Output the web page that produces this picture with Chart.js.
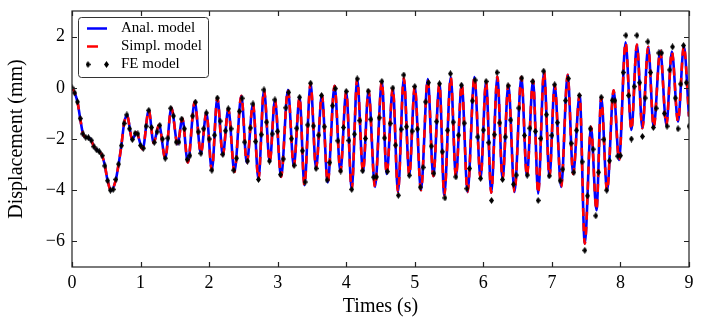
<!DOCTYPE html>
<html>
<head>
<meta charset="utf-8">
<script src="https://cdn.jsdelivr.net/npm/chart.js@4/dist/chart.umd.min.js"></script>
<style>
html,body{margin:0;padding:0;background:#fff;}
#wrap{width:706px;height:331px;}
</style>
</head>
<body>
<div id="wrap"><canvas id="c" width="706" height="331"></canvas></div>
<script>
// ---------- data ----------
const xTicks = [0, 1, 2, 3, 4, 5, 6, 7, 8, 9];
const yTicks = [-6, -4, -2, 0, 2];

// knots of the analytical-model curve (times in s)
const lineTimes = [
  0.00, 0.04, 0.08, 0.12, 0.16, 0.20, 0.24, 0.28, 0.32, 0.36,
  0.40, 0.44, 0.48, 0.52, 0.57, 0.64, 0.68, 0.72, 0.76, 0.80,
  0.88, 0.94, 1.03, 1.12, 1.19, 1.27, 1.36, 1.45, 1.54, 1.61,
  1.69, 1.79, 1.88, 1.96, 2.04, 2.12, 2.20, 2.28, 2.37, 2.47,
  2.55, 2.64, 2.72, 2.80, 2.885, 2.96, 3.05, 3.15, 3.235, 3.32,
  3.39, 3.48, 3.56, 3.645, 3.73, 3.83, 3.915, 4.00, 4.08, 4.16,
  4.245, 4.325, 4.42, 4.52, 4.59, 4.68, 4.755, 4.84, 4.92, 5.00,
  5.09, 5.19, 5.27, 5.36, 5.43, 5.525, 5.60, 5.685, 5.77, 5.87,
  5.96, 6.04, 6.115, 6.205, 6.28, 6.365, 6.455, 6.555, 6.635, 6.725,
  6.80, 6.885, 6.965, 7.04, 7.135, 7.23, 7.31, 7.405, 7.48, 7.57,
  7.65, 7.72, 7.805, 7.90, 7.98, 8.075, 8.16, 8.24, 8.32, 8.405,
  8.485, 8.58, 8.67, 8.75, 8.84, 8.925, 9.00
];
// displacement (mm), analytical model
const analValues = [
  0.00, -0.20, -0.55, -1.20, -1.80, -1.93, -1.95, -2.05, -2.30, -2.42,
  -2.50, -2.65, -3.05, -3.63, -4.02, -3.58, -2.98, -2.26, -1.39, -1.06,
  -2.02, -1.75, -2.40, -0.88, -2.15, -1.45, -2.75, -0.78, -2.20, -1.20,
  -2.92, -0.55, -2.56, -0.98, -3.22, -0.40, -2.63, -0.82, -3.28, -0.31,
  -2.93, -0.63, -3.58, -0.08, -2.89, -0.47, -3.48, -0.08, -3.06, -0.37,
  -3.80, 0.18, -3.15, -0.27, -3.70, 0.08, -3.28, -0.14, -3.97, 0.35,
  -3.28, -0.10, -3.87, 0.25, -3.37, -0.01, -4.07, 0.38, -3.42, 0.05,
  -4.00, 0.34, -3.45, 0.16, -4.20, 0.42, -3.48, 0.14, -4.07, 0.42,
  -3.54, 0.25, -4.10, 0.44, -3.58, 0.12, -4.07, 0.42, -3.45, 0.29,
  -4.13, 0.64, -3.48, 0.12, -3.87, 0.51, -3.37, -0.27, -6.09, -1.52,
  -4.78, -0.37, -4.03, -0.10, -2.82, 1.78, -1.65, 1.69, -1.58, 1.60,
  -1.54, 1.45, -1.45, 1.42, -1.32, 1.62, -1.12
];
// simplified model: indistinguishable from the analytical one in the picture
const simplValues = [
  0.00, -0.20, -0.55, -1.20, -1.80, -1.93, -1.95, -2.05, -2.30, -2.42,
  -2.50, -2.65, -3.05, -3.63, -4.02, -3.58, -2.98, -2.26, -1.39, -1.06,
  -2.02, -1.75, -2.40, -0.88, -2.15, -1.45, -2.75, -0.78, -2.20, -1.20,
  -2.92, -0.55, -2.56, -0.98, -3.22, -0.40, -2.63, -0.82, -3.28, -0.31,
  -2.93, -0.63, -3.58, -0.08, -2.89, -0.47, -3.48, -0.08, -3.06, -0.37,
  -3.80, 0.18, -3.15, -0.27, -3.70, 0.08, -3.28, -0.14, -3.97, 0.35,
  -3.28, -0.10, -3.87, 0.25, -3.37, -0.01, -4.07, 0.38, -3.42, 0.05,
  -4.00, 0.34, -3.45, 0.16, -4.20, 0.42, -3.48, 0.14, -4.07, 0.42,
  -3.54, 0.25, -4.10, 0.44, -3.58, 0.12, -4.07, 0.42, -3.45, 0.29,
  -4.13, 0.64, -3.48, 0.12, -3.87, 0.51, -3.37, -0.27, -6.09, -1.52,
  -4.78, -0.37, -4.03, -0.10, -2.82, 1.78, -1.65, 1.69, -1.58, 1.60,
  -1.54, 1.45, -1.45, 1.42, -1.32, 1.62, -1.12
];
// FE model samples, one every feStep seconds starting at 0
const feStep = 0.04;
const feValues = [
  0.00, -0.20, -0.55, -1.20, -1.80, -1.93, -1.95, -2.05, -2.30, -2.42,
  -2.50, -2.65, -3.05, -3.63, -4.00, -3.97, -3.58, -2.98, -2.26, -1.39,
  -1.06, -1.60, -2.02, -1.78, -1.80, -2.25, -2.36, -1.50, -0.88, -1.55,
  -2.13, -1.72, -1.47, -2.00, -2.75, -1.97, -0.80, -1.10, -2.12, -2.12,
  -1.22, -1.60, -2.80, -2.65, -1.10, -0.56, -1.72, -2.56, -1.60, -0.98,
  -2.00, -3.22, -1.85, -0.40, -1.30, -2.60, -1.68, -0.82, -1.60, -3.22,
  -2.75, -0.92, -0.41, -2.12, -2.86, -1.57, -0.63, -2.10, -3.58, -1.83,
  -0.08, -1.34, -2.86, -1.80, -0.47, -1.70, -3.39, -2.78, -0.78, -0.18,
  -1.99, -3.03, -1.58, -0.37, -2.46, -3.68, -1.45, 0.18, -1.49, -3.15,
  -1.85, -0.30, -1.52, -3.60, -2.92, -0.70, -0.03, -2.07, -3.25, -1.55,
  -0.14, -2.06, -3.97, -1.81, 0.35, -1.28, -3.24, -1.98, -0.13, -1.23,
  -3.49, -3.48, -1.17, 0.25, -1.96, -3.27, -1.39, -0.01, -2.24, -4.20,
  -1.62, 0.50, -1.52, -3.42, -1.69, 0.05, -1.61, -3.88, -3.11, -0.55,
  0.20, -2.28, -3.34, -1.32, 0.16, -2.50, -4.30, -1.66, 0.55, -1.34,
  -3.48, -1.85, 0.10, -1.38, -3.94, -3.15, -0.51, 0.30, -1.92, -3.54,
  -1.65, 0.25, -2.14, -4.40, -1.83, 0.60, -1.37, -3.58, -1.92, 0.08,
  -1.26, -3.77, -3.41, -0.79, 0.38, -1.86, -3.41, -1.58, 0.25, -1.70,
  -4.40, -1.98, 0.65, -1.05, -3.44, -1.86, 0.12, -1.36, -3.63, -3.18,
  -0.50, 0.36, -2.17, -3.30, -1.66, -0.30, -2.89, -6.35, -4.22, -1.60,
  -2.40, -5.00, -3.30, -0.37, -2.02, -4.00, -2.85, -0.49, -0.50, -2.67,
  -2.65, 0.60, 2.05, -0.30, -2.00, 0.05, 2.05, 0.20, -1.90, -0.40,
  1.80, 0.60, -1.55, -0.80, 1.36, 1.36, -1.00, -1.50, 0.70, 1.60,
  -0.40, -1.60, 0.15, 1.65, 0.20, -1.50
];
const seriesNames = ['Anal. model', 'Simpl. model', 'FE model'];
const xTitle = 'Times (s)';
const yTitle = 'Displacement (mm)';

// ---------- chart ----------
const SERIF = "'Liberation Serif', 'DejaVu Serif', serif";
Chart.defaults.font.family = SERIF;
Chart.defaults.color = '#000';

// thin diamond marker
const diamond = document.createElement('canvas');
diamond.width = 5; diamond.height = 7;
(function(){
  const g = diamond.getContext('2d');
  g.fillStyle = '#000';
  g.beginPath();
  g.moveTo(2.5, 0); g.lineTo(5, 3.5); g.lineTo(2.5, 7); g.lineTo(0, 3.5);
  g.closePath(); g.fill();
})();

const analData = lineTimes.map((t, i) => ({x: t, y: analValues[i]}));
const simplData = lineTimes.map((t, i) => ({x: t, y: simplValues[i]}));
const feData = feValues.map((v, i) => ({x: +(i * feStep).toFixed(2), y: v}));

const minus = v => (v < 0 ? '\u2212' + Math.abs(v) : String(v));

const deco = {
  id: 'deco',
  afterDraw(chart) {
    const {ctx, chartArea: a, scales: {x, y}} = chart;
    ctx.save();
    ctx.strokeStyle = '#222';
    ctx.lineWidth = 1.2;
    ctx.strokeRect(a.left, a.top, a.right - a.left, a.bottom - a.top);
    ctx.beginPath();
    xTicks.forEach(v => {
      const px = Math.round(x.getPixelForValue(v)) + 0.5;
      ctx.moveTo(px, a.bottom); ctx.lineTo(px, a.bottom - 5);
      ctx.moveTo(px, a.top); ctx.lineTo(px, a.top + 5);
    });
    yTicks.forEach(v => {
      const py = Math.round(y.getPixelForValue(v)) + 0.5;
      ctx.moveTo(a.left, py); ctx.lineTo(a.left + 5, py);
      ctx.moveTo(a.right, py); ctx.lineTo(a.right - 5, py);
    });
    ctx.stroke();

    // legend box
    const bx = 78.5, by = 17.5, bw = 130, bh = 60, r = 3;
    ctx.beginPath();
    ctx.moveTo(bx + r, by);
    ctx.lineTo(bx + bw - r, by); ctx.arcTo(bx + bw, by, bx + bw, by + r, r);
    ctx.lineTo(bx + bw, by + bh - r); ctx.arcTo(bx + bw, by + bh, bx + bw - r, by + bh, r);
    ctx.lineTo(bx + r, by + bh); ctx.arcTo(bx, by + bh, bx, by + bh - r, r);
    ctx.lineTo(bx, by + r); ctx.arcTo(bx, by, bx + r, by, r);
    ctx.closePath();
    ctx.fillStyle = 'rgba(255,255,255,0.85)';
    ctx.fill();
    ctx.strokeStyle = '#333';
    ctx.lineWidth = 1;
    ctx.stroke();

    const rows = [28.5, 46.5, 64.5];
    ctx.strokeStyle = '#0000ff'; ctx.lineWidth = 2.5;
    ctx.beginPath(); ctx.moveTo(87, rows[0]); ctx.lineTo(107, rows[0]); ctx.stroke();
    ctx.strokeStyle = '#ff0000';
    ctx.beginPath(); ctx.moveTo(87, rows[1]); ctx.lineTo(98, rows[1]); ctx.stroke();
    ctx.drawImage(diamond, 88 - 2.5, rows[2] - 3.5);
    ctx.drawImage(diamond, 106.5 - 2.5, rows[2] - 3.5);

    ctx.fillStyle = '#000';
    ctx.font = '15px ' + SERIF;
    ctx.textBaseline = 'middle';
    ctx.textAlign = 'left';
    seriesNames.forEach((n, i) => ctx.fillText(n, 121, rows[i]));
    ctx.restore();
  }
};

new Chart(document.getElementById('c'), {
  type: 'line',
  data: {
    datasets: [
      {label: seriesNames[0], data: analData, borderColor: '#0000ff', borderWidth: 2.6,
       pointRadius: 0, cubicInterpolationMode: 'monotone', fill: false, order: 3},
      {label: seriesNames[1], data: simplData, borderColor: '#ff0000', borderWidth: 2.6,
       borderDash: [8, 7], pointRadius: 0, cubicInterpolationMode: 'monotone', fill: false, order: 2},
      {label: seriesNames[2], data: feData, showLine: false, pointStyle: diamond,
       pointRadius: 3, backgroundColor: '#000', borderColor: '#000', order: 1}
    ]
  },
  options: {
    responsive: false,
    animation: false,
    devicePixelRatio: 1,
    layout: {padding: {top: 11, right: 17, left: 0, bottom: 0}},
    plugins: {legend: {display: false}, tooltip: {enabled: false}},
    scales: {
      x: {
        type: 'linear', min: 0, max: 9,
        afterBuildTicks: s => { s.ticks = xTicks.map(v => ({value: v})); },
        afterFit: s => { s.height = 64; s.paddingLeft = 0; s.paddingRight = 0; },
        grid: {display: false, drawTicks: false},
        border: {display: false},
        ticks: {padding: 5, font: {size: 18}, color: '#000', maxRotation: 0,
                callback: v => minus(v)},
        title: {display: true, text: xTitle, font: {size: 20}, color: '#000',
                padding: {top: 0, bottom: 12}}
      },
      y: {
        type: 'linear', min: -7, max: 3,
        afterBuildTicks: s => { s.ticks = yTicks.map(v => ({value: v})); },
        afterFit: s => { s.width = 72; s.paddingTop = 0; s.paddingBottom = 0; },
        grid: {display: false, drawTicks: false},
        border: {display: false},
        ticks: {padding: 7, font: {size: 18}, color: '#000', callback: v => minus(v)},
        title: {display: true, text: yTitle, font: {size: 20}, color: '#000',
                padding: {top: 5, bottom: 0}}
      }
    }
  },
  plugins: [deco]
});
</script>
</body>
</html>
